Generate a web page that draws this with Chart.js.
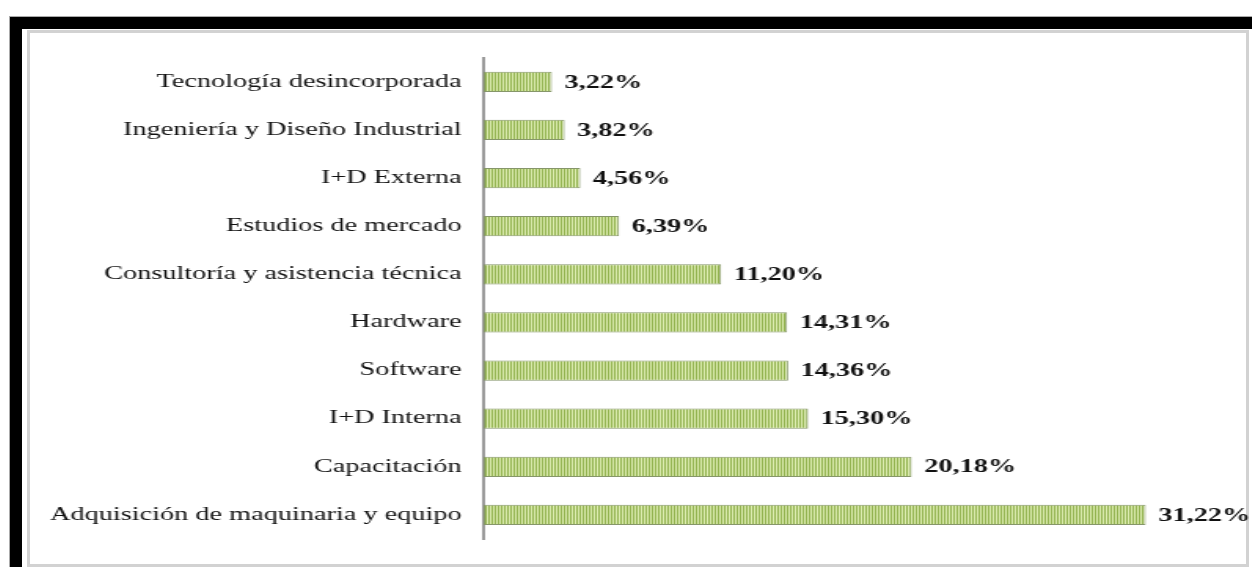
<!DOCTYPE html>
<html>
<head>
<meta charset="utf-8">
<script src="https://cdn.jsdelivr.net/npm/chart.js@4.4.1/dist/chart.umd.min.js"></script>
<style>
  html, body { margin: 0; padding: 0; background: #fff; overflow: hidden; }
  body { width: 1252px; height: 567px; position: relative; }
  .frame {
    position: absolute; left: 10px; top: 17px; width: 1300px; height: 600px;
    border-left: 12px solid #000; border-top: 12px solid #000;
    box-shadow: -1px -1px 0 #aaa;
  }
  .panel {
    position: absolute; left: 27px; top: 30px; width: 1222px; height: 537px;
    box-sizing: border-box; border: 3px solid #d2d2d2; background: #fff;
  }
  #chart {
    position: absolute; left: 28px; top: 33px;
    transform: scaleX(1.571); transform-origin: 0 0;
  }
</style>
</head>
<body>
<div class="frame"></div>
<div class="panel"></div>
<canvas id="chart" width="779" height="534"></canvas>
<script>
const categories = [
  'Tecnología desincorporada',
  'Ingeniería y Diseño Industrial',
  'I+D Externa',
  'Estudios de mercado',
  'Consultoría y asistencia técnica',
  'Hardware',
  'Software',
  'I+D Interna',
  'Capacitación',
  'Adquisición de maquinaria y equipo'
];
const shares = [3.22, 3.82, 4.56, 6.39, 11.20, 14.31, 14.36, 15.30, 20.18, 31.22];

// thin vertical stripes for the bar fill
function stripes() {
  const c = document.createElement('canvas');
  c.width = 2; c.height = 1;
  const g = c.getContext('2d');
  g.fillStyle = '#dcecb0'; g.fillRect(0, 0, 1, 1);
  g.fillStyle = '#93b350'; g.fillRect(1, 0, 1, 1);
  return g.createPattern(c, 'repeat');
}

const fmt = v => v.toFixed(2).replace('.', ',') + '%';

// value printed just past the end of each bar
const valueLabels = {
  id: 'valueLabels',
  afterDatasetsDraw(chart) {
    const ctx = chart.ctx;
    const meta = chart.getDatasetMeta(0);
    ctx.save();
    ctx.font = 'bold 18px "Liberation Serif", serif';
    ctx.fillStyle = '#111';
    ctx.textAlign = 'left';
    ctx.textBaseline = 'middle';
    meta.data.forEach((bar, i) => {
      ctx.fillText(fmt(shares[i]), bar.x + 8, bar.y + 1);
    });
    ctx.restore();
  }
};

const ctx = document.getElementById('chart').getContext('2d');
new Chart(ctx, {
  type: 'bar',
  data: {
    labels: categories,
    datasets: [{
      data: shares,
      backgroundColor: stripes(),
      borderColor: '#86966a',
      borderWidth: 1,
      borderSkipped: false,
      barPercentage: 0.42,
      categoryPercentage: 1
    }]
  },
  options: {
    indexAxis: 'y',
    responsive: false,
    animation: false,
    layout: { padding: { top: 23, bottom: 28, left: 0, right: 30 } },
    plugins: {
      legend: { display: false },
      tooltip: { enabled: false }
    },
    scales: {
      x: {
        display: false,
        min: 0,
        max: 34
      },
      y: {
        grid: { display: false, drawTicks: false },
        border: { display: true, color: '#9a9a9a', width: 2 },
        ticks: {
          padding: 14,
          color: '#111',
          font: { family: '"Liberation Serif", serif', size: 18 }
        },
        afterFit(scale) { scale.width = 290; }
      }
    }
  },
  plugins: [valueLabels]
});
</script>
</body>
</html>
